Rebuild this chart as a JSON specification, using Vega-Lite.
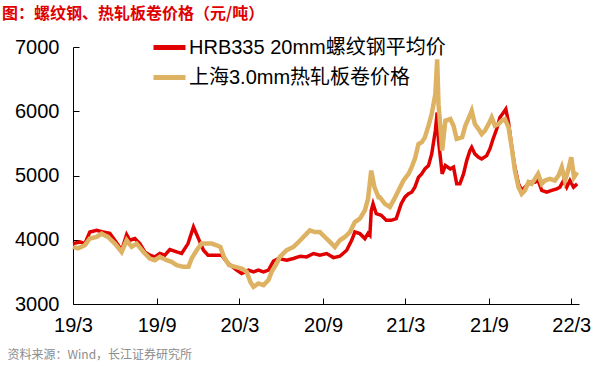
{
  "$schema": "https://vega.github.io/schema/vega-lite/v6.json",
  "width": 506,
  "height": 257,
  "autosize": {"type": "none"},
  "padding": {"left": 73, "top": 47, "right": 18, "bottom": 64},
  "background": "white",
  "title": {"text": "图：螺纹钢、热轧板卷价格（元/吨）", "anchor": "start", "dx": -5, "offset": 7, "font": "Noto Sans CJK SC", "fontSize": 16, "fontWeight": "bold", "color": "#E00000"},
  "config": {
    "view": {"stroke": null},
    "axis": {"grid": false, "domainColor": "#000000", "tickColor": "#000000", "labelColor": "#000000", "labelFont": "Liberation Sans", "labelFontSize": 20, "domainWidth": 1, "tickWidth": 1}
  },
  "datasets": {
    "red": [
      {"date": "2019-03-01", "price": 3940}, {"date": "2019-03-16", "price": 3966}, {"date": "2019-03-27", "price": 3940},
      {"date": "2019-04-07", "price": 4120}, {"date": "2019-04-22", "price": 4147}, {"date": "2019-05-06", "price": 4120},
      {"date": "2019-05-21", "price": 4100}, {"date": "2019-06-01", "price": 3992}, {"date": "2019-06-16", "price": 3837},
      {"date": "2019-06-27", "price": 4080}, {"date": "2019-07-04", "price": 3992}, {"date": "2019-07-15", "price": 4018},
      {"date": "2019-07-26", "price": 3940}, {"date": "2019-08-06", "price": 3810}, {"date": "2019-08-17", "price": 3760},
      {"date": "2019-08-28", "price": 3733}, {"date": "2019-09-08", "price": 3786}, {"date": "2019-09-19", "price": 3760},
      {"date": "2019-09-30", "price": 3847}, {"date": "2019-10-15", "price": 3810}, {"date": "2019-10-26", "price": 3786},
      {"date": "2019-11-09", "price": 3940}, {"date": "2019-11-21", "price": 4199}, {"date": "2019-12-02", "price": 4018},
      {"date": "2019-12-13", "price": 3837}, {"date": "2019-12-23", "price": 3760}, {"date": "2020-01-07", "price": 3760},
      {"date": "2020-01-22", "price": 3760}, {"date": "2020-01-30", "price": 3682}, {"date": "2020-02-10", "price": 3605},
      {"date": "2020-02-24", "price": 3527}, {"date": "2020-03-06", "price": 3475}, {"date": "2020-03-21", "price": 3527},
      {"date": "2020-04-01", "price": 3501}, {"date": "2020-04-12", "price": 3527}, {"date": "2020-04-23", "price": 3501},
      {"date": "2020-05-04", "price": 3527}, {"date": "2020-05-15", "price": 3670}, {"date": "2020-05-26", "price": 3708},
      {"date": "2020-06-13", "price": 3682}, {"date": "2020-06-28", "price": 3708}, {"date": "2020-07-13", "price": 3744},
      {"date": "2020-07-27", "price": 3733}, {"date": "2020-08-11", "price": 3786}, {"date": "2020-08-25", "price": 3760},
      {"date": "2020-09-09", "price": 3786}, {"date": "2020-09-24", "price": 3722}, {"date": "2020-10-08", "price": 3744},
      {"date": "2020-10-23", "price": 3837}, {"date": "2020-11-03", "price": 3992}, {"date": "2020-11-10", "price": 4120},
      {"date": "2020-11-21", "price": 4095}, {"date": "2020-12-02", "price": 4018}, {"date": "2020-12-09", "price": 4100},
      {"date": "2020-12-13", "price": 4070}, {"date": "2020-12-16", "price": 4450}, {"date": "2020-12-20", "price": 4560},
      {"date": "2020-12-27", "price": 4405}, {"date": "2021-01-07", "price": 4380}, {"date": "2021-01-18", "price": 4302},
      {"date": "2021-01-29", "price": 4302}, {"date": "2021-02-09", "price": 4328}, {"date": "2021-02-20", "price": 4560},
      {"date": "2021-02-28", "price": 4663}, {"date": "2021-03-08", "price": 4715}, {"date": "2021-03-15", "price": 4740},
      {"date": "2021-03-22", "price": 4818}, {"date": "2021-03-30", "price": 4973}, {"date": "2021-04-06", "price": 5025},
      {"date": "2021-04-13", "price": 5103}, {"date": "2021-04-21", "price": 5155}, {"date": "2021-04-28", "price": 5336},
      {"date": "2021-05-06", "price": 5697}, {"date": "2021-05-10", "price": 5980}, {"date": "2021-05-13", "price": 5542},
      {"date": "2021-05-21", "price": 5025}, {"date": "2021-05-28", "price": 5155}, {"date": "2021-06-08", "price": 5103},
      {"date": "2021-06-15", "price": 5130}, {"date": "2021-06-22", "price": 4870}, {"date": "2021-06-29", "price": 4870},
      {"date": "2021-07-07", "price": 5025}, {"date": "2021-07-14", "price": 5232}, {"date": "2021-07-21", "price": 5387},
      {"date": "2021-07-25", "price": 5439}, {"date": "2021-08-01", "price": 5336}, {"date": "2021-08-09", "price": 5284},
      {"date": "2021-08-16", "price": 5258}, {"date": "2021-08-27", "price": 5310}, {"date": "2021-09-03", "price": 5413},
      {"date": "2021-09-10", "price": 5568}, {"date": "2021-09-18", "price": 5723}, {"date": "2021-09-25", "price": 5904},
      {"date": "2021-10-03", "price": 5982}, {"date": "2021-10-08", "price": 6033}, {"date": "2021-10-14", "price": 5826},
      {"date": "2021-10-21", "price": 5439}, {"date": "2021-10-28", "price": 5129}, {"date": "2021-11-05", "price": 4870},
      {"date": "2021-11-12", "price": 4767}, {"date": "2021-11-19", "price": 4818}, {"date": "2021-11-30", "price": 4896},
      {"date": "2021-12-11", "price": 4896}, {"date": "2021-12-18", "price": 4922}, {"date": "2021-12-26", "price": 4767},
      {"date": "2022-01-06", "price": 4740}, {"date": "2022-01-17", "price": 4767}, {"date": "2022-01-28", "price": 4793},
      {"date": "2022-02-04", "price": 4818}, {"date": "2022-02-12", "price": 4922}, {"date": "2022-02-19", "price": 4818},
      {"date": "2022-02-26", "price": 4922}, {"date": "2022-03-06", "price": 4818}, {"date": "2022-03-14", "price": 4870}
    ],
    "tan": [
      {"date": "2019-03-01", "price": 3890}, {"date": "2019-03-12", "price": 3866}, {"date": "2019-03-27", "price": 3914},
      {"date": "2019-04-07", "price": 4020}, {"date": "2019-04-22", "price": 4043}, {"date": "2019-05-03", "price": 4095},
      {"date": "2019-05-17", "price": 4043}, {"date": "2019-06-01", "price": 3940}, {"date": "2019-06-16", "price": 3810},
      {"date": "2019-06-27", "price": 3992}, {"date": "2019-07-08", "price": 3890}, {"date": "2019-07-19", "price": 3940},
      {"date": "2019-08-03", "price": 3810}, {"date": "2019-08-17", "price": 3708}, {"date": "2019-08-28", "price": 3682},
      {"date": "2019-09-08", "price": 3733}, {"date": "2019-09-23", "price": 3682}, {"date": "2019-10-04", "price": 3656},
      {"date": "2019-10-15", "price": 3605}, {"date": "2019-10-30", "price": 3578}, {"date": "2019-11-10", "price": 3578},
      {"date": "2019-11-17", "price": 3708}, {"date": "2019-11-28", "price": 3837}, {"date": "2019-12-09", "price": 3940},
      {"date": "2019-12-20", "price": 3940}, {"date": "2019-12-31", "price": 3940}, {"date": "2020-01-11", "price": 3914},
      {"date": "2020-01-19", "price": 3888}, {"date": "2020-01-27", "price": 3733}, {"date": "2020-02-07", "price": 3605},
      {"date": "2020-02-21", "price": 3578}, {"date": "2020-03-06", "price": 3553}, {"date": "2020-03-17", "price": 3501},
      {"date": "2020-03-25", "price": 3346}, {"date": "2020-04-01", "price": 3268}, {"date": "2020-04-12", "price": 3320},
      {"date": "2020-04-23", "price": 3294}, {"date": "2020-05-04", "price": 3372}, {"date": "2020-05-11", "price": 3501},
      {"date": "2020-05-22", "price": 3630}, {"date": "2020-05-29", "price": 3733}, {"date": "2020-06-13", "price": 3837},
      {"date": "2020-06-28", "price": 3888}, {"date": "2020-07-13", "price": 3992}, {"date": "2020-07-27", "price": 4095},
      {"date": "2020-08-03", "price": 4147}, {"date": "2020-08-14", "price": 4120}, {"date": "2020-08-25", "price": 4120},
      {"date": "2020-09-05", "price": 4043}, {"date": "2020-09-16", "price": 3966}, {"date": "2020-09-27", "price": 3888},
      {"date": "2020-10-08", "price": 3992}, {"date": "2020-10-19", "price": 4043}, {"date": "2020-10-30", "price": 4120},
      {"date": "2020-11-10", "price": 4275}, {"date": "2020-11-21", "price": 4328}, {"date": "2020-12-02", "price": 4457},
      {"date": "2020-12-09", "price": 4638}, {"date": "2020-12-16", "price": 5077}, {"date": "2020-12-23", "price": 4818},
      {"date": "2021-01-01", "price": 4663}, {"date": "2021-01-04", "price": 4663}, {"date": "2021-01-15", "price": 4560},
      {"date": "2021-01-26", "price": 4510}, {"date": "2021-02-03", "price": 4612}, {"date": "2021-02-14", "price": 4767},
      {"date": "2021-02-25", "price": 4922}, {"date": "2021-03-08", "price": 5025}, {"date": "2021-03-15", "price": 5129},
      {"date": "2021-03-22", "price": 5258}, {"date": "2021-03-30", "price": 5490}, {"date": "2021-04-06", "price": 5516},
      {"date": "2021-04-13", "price": 5594}, {"date": "2021-04-21", "price": 5775}, {"date": "2021-04-28", "price": 5956},
      {"date": "2021-05-06", "price": 6266}, {"date": "2021-05-10", "price": 6808}, {"date": "2021-05-13", "price": 6110},
      {"date": "2021-05-21", "price": 5387}, {"date": "2021-05-28", "price": 5852}, {"date": "2021-06-08", "price": 5878},
      {"date": "2021-06-15", "price": 5775}, {"date": "2021-06-22", "price": 5568}, {"date": "2021-07-04", "price": 5594},
      {"date": "2021-07-11", "price": 5775}, {"date": "2021-07-19", "price": 5904}, {"date": "2021-07-25", "price": 6007},
      {"date": "2021-08-01", "price": 5800}, {"date": "2021-08-09", "price": 5723}, {"date": "2021-08-16", "price": 5645},
      {"date": "2021-08-23", "price": 5697}, {"date": "2021-08-31", "price": 5800}, {"date": "2021-09-07", "price": 5904},
      {"date": "2021-09-14", "price": 5775}, {"date": "2021-09-22", "price": 5800}, {"date": "2021-09-29", "price": 5852},
      {"date": "2021-10-06", "price": 5878}, {"date": "2021-10-14", "price": 5749}, {"date": "2021-10-21", "price": 5439},
      {"date": "2021-10-28", "price": 5077}, {"date": "2021-11-05", "price": 4818}, {"date": "2021-11-12", "price": 4715},
      {"date": "2021-11-19", "price": 4767}, {"date": "2021-11-27", "price": 4896}, {"date": "2021-12-04", "price": 4870},
      {"date": "2021-12-11", "price": 4948}, {"date": "2021-12-18", "price": 5025}, {"date": "2021-12-26", "price": 4870},
      {"date": "2022-01-02", "price": 4922}, {"date": "2022-01-13", "price": 4948}, {"date": "2022-01-24", "price": 4922},
      {"date": "2022-02-01", "price": 5000}, {"date": "2022-02-08", "price": 5129}, {"date": "2022-02-15", "price": 4922},
      {"date": "2022-02-22", "price": 5077}, {"date": "2022-03-01", "price": 5284}, {"date": "2022-03-07", "price": 4973},
      {"date": "2022-03-14", "price": 5050}
    ]
  },
  "encoding": {
    "x": {
      "field": "date", "type": "temporal",
      "scale": {"type": "utc", "domain": [{"year": 2019, "month": 3, "date": 1, "utc": true}, {"year": 2022, "month": 3, "date": 18, "utc": true}]},
      "axis": {
        "values": [
          {"year": 2019, "month": 3, "date": 1, "utc": true},
          {"year": 2019, "month": 9, "date": 1, "utc": true},
          {"year": 2020, "month": 3, "date": 1, "utc": true},
          {"year": 2020, "month": 9, "date": 1, "utc": true},
          {"year": 2021, "month": 3, "date": 1, "utc": true},
          {"year": 2021, "month": 9, "date": 1, "utc": true},
          {"year": 2022, "month": 3, "date": 1, "utc": true}
        ],
        "format": "%y/%-m",
        "tickSize": -6,
        "labelPadding": 17,
        "labelFlush": false,
        "labelOverlap": false,
        "title": "资料来源：Wind，长江证券研究所",
        "titleFont": "Noto Sans CJK SC",
        "titleFontSize": 12,
        "titleFontWeight": "normal",
        "titleColor": "#8C8C8C",
        "titleAnchor": "start",
        "titleAlign": "left",
        "titleBaseline": "middle",
        "titleX": -66,
        "titleY": 50
      }
    },
    "y": {
      "field": "price", "type": "quantitative",
      "scale": {"domain": [3000, 7000], "nice": false, "zero": false},
      "axis": {"values": [3000, 4000, 5000, 6000, 7000], "format": "d", "tickSize": -6, "labelPadding": 20, "title": null, "labelFlush": false}
    }
  },
  "layer": [
    {
      "data": {"name": "red"},
      "mark": {"type": "line", "strokeWidth": 3.5, "interpolate": "linear"},
      "encoding": {
        "color": {
          "datum": "HRB335 20mm螺纹钢平均价", "type": "nominal",
          "scale": {"domain": ["HRB335 20mm螺纹钢平均价", "上海3.0mm热轧板卷价格"], "range": ["#E00000", "#DDB263"]},
          "legend": {"orient": "none", "legendX": 78, "legendY": -18, "title": null, "symbolType": "stroke", "symbolSize": 1024, "symbolStrokeWidth": 5, "labelFont": "Liberation Sans, Noto Sans CJK SC", "labelFontSize": 20, "labelColor": "#000000", "labelOffset": 1, "rowPadding": 1, "padding": 0, "labelLimit": 400}
        }
      }
    },
    {
      "data": {"name": "tan"},
      "mark": {"type": "line", "strokeWidth": 4.5, "interpolate": "linear"},
      "encoding": {
        "color": {"datum": "上海3.0mm热轧板卷价格", "type": "nominal"}
      }
    }
  ]
}
